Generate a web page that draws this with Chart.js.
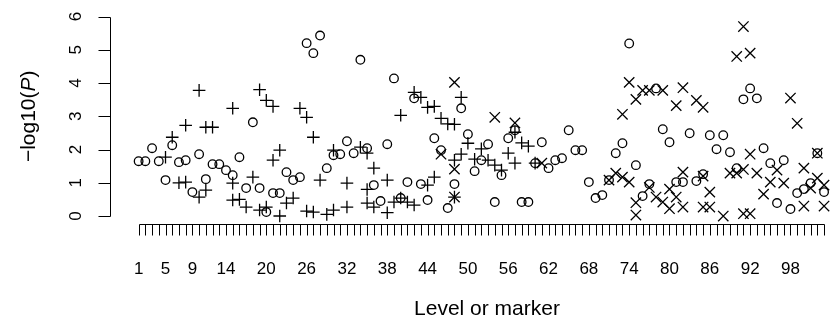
<!DOCTYPE html>
<html>
<head>
<meta charset="utf-8">
<script src="https://cdn.jsdelivr.net/npm/chart.js@4"></script>
<style>
  html, body { margin: 0; padding: 0; background: #fff; }
  #wrap { width: 834px; height: 323px; }
</style>
</head>
<body>
<div id="wrap"><canvas id="plot"></canvas></div>
<script>
"use strict";

// -log10(P), one circle per level
const circleP = [
  1.65, 1.65, 2.04, 1.65, 1.08, 2.13, 1.62, 1.68, 0.72, 1.86,
  1.11, 1.56, 1.56, 1.38, 1.23, 1.77, 0.84, 2.82, 0.84, 0.12,
  0.69, 0.69, 1.32, 1.08, 1.17, 5.20, 4.90, 5.43, 1.44, 1.83,
  1.86, 2.25, 1.89, 4.70, 2.04, 0.93, 0.45, 2.16, 4.14, 0.54,
  1.02, 3.54, 0.96, 0.48, 2.34, 1.98, 0.24, 0.96, 3.24, 2.46,
  1.35, 1.68, 2.16, 0.42, 1.23, 2.34, 2.58, 0.42, 0.42, 1.59,
  2.22, 1.44, 1.68, 1.74, 2.58, 1.98, 1.98, 1.02, 0.54, 0.63,
  1.08, 1.89, 2.19, 5.19, 1.53, 0.60, 0.96, 3.84, 2.61, 2.22,
  1.02, 1.02, 2.49, 1.05, 1.26, 2.43, 2.01, 2.43, 1.92, 1.44,
  3.51, 3.84, 3.54, 2.04, 1.59, 0.39, 1.68, 0.21, 0.69, 0.81,
  0.99, 1.89, 0.72
];

// plus markers: level and -log10(P)
const plusLevel = [
  5, 6, 7, 8, 8, 10, 10, 11, 11, 12, 15, 15, 15, 16, 17, 18, 19, 19, 20, 20,
  21, 21, 22, 22, 23, 24, 25, 26, 26, 27, 27, 28, 29, 30, 30, 32, 32, 34, 35, 35,
  35, 36, 36, 38, 38, 39, 40, 40, 41, 42, 42, 43, 44, 44, 45, 45, 46, 47, 48, 48,
  48, 49, 49, 50, 51, 52, 53, 54, 55, 56, 57, 57, 58, 59, 60
];
const plusP = [
  1.77, 2.37, 1.00, 2.73, 1.02, 3.78, 0.57, 2.67, 0.78, 2.67, 3.24, 0.99, 0.48, 0.50, 0.27, 1.17, 3.80, 0.18, 3.48, 0.27,
  3.30, 1.68, 1.98, 0.00, 0.39, 0.54, 3.24, 2.97, 0.15, 2.37, 0.12, 1.08, 0.05, 1.98, 0.18, 0.99, 0.27, 2.07, 1.89, 0.80,
  0.39, 1.44, 0.27, 1.08, 0.10, 0.42, 3.03, 0.54, 0.42, 3.72, 0.33, 3.57, 3.27, 0.93, 3.30, 1.17, 2.94, 2.77, 2.76, 1.68,
  0.57, 3.57, 1.86, 2.19, 1.71, 2.02, 1.68, 1.53, 1.38, 1.89, 2.52, 1.59, 2.20, 2.10, 1.59
];

// cross markers: level and -log10(P)
const crossLevel = [
  46, 48, 48, 48, 54, 57, 61, 71, 72, 73, 73, 74, 74, 75, 75, 75, 76, 77, 77, 78,
  79, 79, 80, 80, 81, 81, 82, 82, 82, 84, 85, 85, 85, 86, 86, 88, 89, 90, 90, 91,
  91, 91, 92, 92, 92, 93, 94, 95, 96, 97, 98, 99, 100, 100, 101, 102, 102, 103, 103
];
const crossP = [
  1.86, 4.02, 1.41, 0.57, 2.97, 2.80, 1.59, 1.08, 1.29, 3.06, 1.17, 4.02, 1.02, 3.51, 0.40, 0.03, 3.78, 3.78, 0.86, 0.57,
  3.78, 0.42, 0.81, 0.22, 3.32, 0.57, 3.86, 1.32, 0.27, 3.48, 3.27, 1.20, 0.27, 0.72, 0.27, 0.00, 1.29, 4.80, 1.29, 5.70,
  1.40, 0.07, 4.90, 1.86, 0.07, 1.29, 0.66, 1.02, 1.38, 0.99, 3.55, 2.79, 1.44, 0.30, 0.84, 1.89, 1.14, 0.93, 0.30
];

const xTickLabels = [1, 5, 9, 14, 20, 26, 32, 38, 44, 50, 56, 62, 68, 74, 80, 86, 92, 98];
const yTicks = [0, 1, 2, 3, 4, 5, 6];
const lastTick = 103;

const FONT = '"Liberation Sans", Arial, Helvetica, sans-serif';

function pts(levels, values) {
  return values.map((v, i) => ({ x: levels ? levels[i] : i + 1, y: v }));
}

function crisp(v) {
  return Math.round(v) + 0.5;
}

// base-graphics style axes, drawn from the chart's own scales
const rAxes = {
  id: 'rAxes',
  afterDraw(chart) {
    const { ctx, chartArea } = chart;
    const x = chart.scales.x;
    const y = chart.scales.y;
    ctx.save();
    ctx.strokeStyle = '#000';
    ctx.fillStyle = '#000';
    ctx.lineWidth = 1;

    // y axis
    const ax = crisp(chartArea.left);
    ctx.beginPath();
    ctx.moveTo(ax, crisp(y.getPixelForValue(yTicks[0])));
    ctx.lineTo(ax, crisp(y.getPixelForValue(yTicks[yTicks.length - 1])));
    yTicks.forEach(v => {
      const py = crisp(y.getPixelForValue(v));
      ctx.moveTo(ax - 12, py);
      ctx.lineTo(ax, py);
    });
    ctx.stroke();

    ctx.font = '17px ' + FONT;
    ctx.textAlign = 'center';
    ctx.textBaseline = 'alphabetic';
    yTicks.forEach(v => {
      ctx.save();
      ctx.translate(ax - 30, y.getPixelForValue(v));
      ctx.rotate(-Math.PI / 2);
      ctx.fillText(String(v), 0, 0);
      ctx.restore();
    });

    // x axis
    const ay = crisp(chartArea.bottom);
    ctx.beginPath();
    ctx.moveTo(crisp(x.getPixelForValue(1)), ay);
    ctx.lineTo(crisp(x.getPixelForValue(lastTick)), ay);
    for (let i = 1; i <= lastTick; i++) {
      const px = crisp(x.getPixelForValue(i));
      ctx.moveTo(px, ay);
      ctx.lineTo(px, ay + 11);
    }
    ctx.stroke();

    xTickLabels.forEach(v => {
      ctx.fillText(String(v), x.getPixelForValue(v), ay + 49);
    });

    // titles
    ctx.font = '21px ' + FONT;
    ctx.fillText('Level or marker', 487, 315);

    const parts = [
      { t: '\u2212log10(', f: '21px ' + FONT },
      { t: 'P', f: 'italic 21px ' + FONT },
      { t: ')', f: '21px ' + FONT }
    ];
    let total = 0;
    parts.forEach(p => { ctx.font = p.f; p.w = ctx.measureText(p.t).width; total += p.w; });
    ctx.save();
    ctx.translate(35, (y.getPixelForValue(0) + y.getPixelForValue(6)) / 2);
    ctx.rotate(-Math.PI / 2);
    ctx.textAlign = 'left';
    let cx = -total / 2;
    parts.forEach(p => { ctx.font = p.f; ctx.fillText(p.t, cx, 0); cx += p.w; });
    ctx.restore();

    ctx.restore();
  }
};

const marker = {
  showLine: false,
  borderColor: '#000',
  backgroundColor: 'rgba(0,0,0,0)',
  borderWidth: 1.3,
  clip: false
};

new Chart(document.getElementById('plot'), {
  type: 'scatter',
  data: {
    datasets: [
      Object.assign({ label: 'circle', data: pts(null, circleP), pointStyle: 'circle', pointRadius: 4.3 }, marker),
      Object.assign({ label: 'plus', data: pts(plusLevel, plusP), pointStyle: 'cross', pointRadius: 6.3 }, marker),
      Object.assign({ label: 'cross', data: pts(crossLevel, crossP), pointStyle: 'crossRot', pointRadius: 7.3 }, marker)
    ]
  },
  options: {
    responsive: true,
    maintainAspectRatio: false,
    animation: false,
    events: [],
    layout: { padding: { left: 110, top: 8, right: 0, bottom: 99 } },
    plugins: {
      legend: { display: false },
      tooltip: { enabled: false }
    },
    scales: {
      x: { type: 'linear', min: -3.26, max: 103.2, display: false },
      y: { type: 'linear', min: -0.24, max: 6.24, display: false }
    }
  },
  plugins: [rAxes]
});
</script>
</body>
</html>
